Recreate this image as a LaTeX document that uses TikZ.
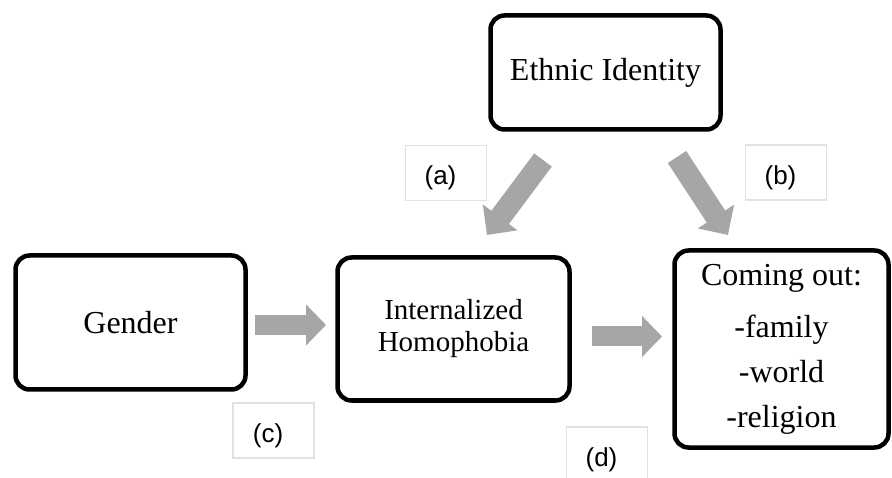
\documentclass[tikz,border=0pt]{standalone}
\usepackage{fontspec}
\setmainfont{Liberation Serif}
\newfontfamily\labfont{Liberation Sans}
\usetikzlibrary{arrows.meta,calc}
\definecolor{arrowgray}{HTML}{A6A6A6}
\definecolor{labgray}{HTML}{E2E2E2}
\begin{document}
\begin{tikzpicture}[x=1pt,y=-1pt,
  mainbox/.style={draw=black, line width=4.5pt, rounded corners=14pt, fill=white,
    outer sep=0pt, inner sep=0pt, align=center},
  bigtext/.style={font=\fontsize{32}{45}\selectfont},
  labbox/.style={draw=labgray, line width=1.3pt, fill=white, minimum width=81pt,
    minimum height=55pt, inner sep=0pt, outer sep=0pt},
  labtext/.style={font=\labfont\fontsize{26}{30}\selectfont, inner sep=0pt},
  fatarrow/.style={draw=arrowgray, line width=20pt, -{Triangle[length=20pt,width=40pt]}},
  diagarrow/.style={draw=arrowgray, line width=22pt, -{Triangle[length=22pt,width=42pt]}},
]
\useasboundingbox (0,0) rectangle (892,478);
\clip (0,0) rectangle (892,478);

% main boxes
\node[mainbox, bigtext, minimum width=230pt, minimum height=114pt] (eth) at (605.5,72.5) {Ethnic Identity};
\node[mainbox, bigtext, minimum width=230pt, minimum height=134pt] (gen) at (130.5,322.5) {Gender};
\node[mainbox, font=\fontsize{29}{32}\selectfont, minimum width=232pt, minimum height=143pt] (hom) at (453.5,329) {Internalized\\Homophobia};
\node[mainbox, bigtext, minimum width=214pt, minimum height=197pt] (com) at (781.5,349) {Coming out:\\[7pt]-family\\-world\\-religion};

% label boxes
\node[labbox] (la) at (446,173) {};
\node[labtext] (lat) at ($(la)+(-5.5,5)$) {(a)};
\node[labbox] (lb) at (786,172.5) {};
\node[labtext] (lbt) at ($(lb)+(-5.5,5)$) {(b)};
\node[labbox] (lc) at (273.5,430.5) {};
\node[labtext] (lct) at ($(lc)+(-5.5,5)$) {(c)};
\node[labbox] (ld) at (607,454.5) {};
\node[labtext] (ldt) at ($(ld)+(-5.5,5)$) {(d)};

% arrow end points
\coordinate (aS) at ($(eth.south)+(-62.5,30.5)$);
\coordinate (aE) at ($(hom.north)+(33.5,-22.5)$);
\coordinate (bS) at ($(eth.south)+(71.5,27.5)$);
\coordinate (bE) at ($(com.north)+(-53.5,-15.5)$);
\coordinate (cS) at ($(gen.east)+(9.5,2.5)$);
\coordinate (cE) at ($(hom.west)+(-11.5,-4)$);
\coordinate (dS) at ($(hom.east)+(22.5,7.5)$);
\coordinate (dE) at ($(com.west)+(-12.5,-12.5)$);

\draw[diagarrow] (aS) -- (aE);
\draw[diagarrow] (bS) -- (bE);
\draw[fatarrow] (cS) -- (cE);
\draw[fatarrow] (dS) -- (dE);
\end{tikzpicture}
\end{document}
